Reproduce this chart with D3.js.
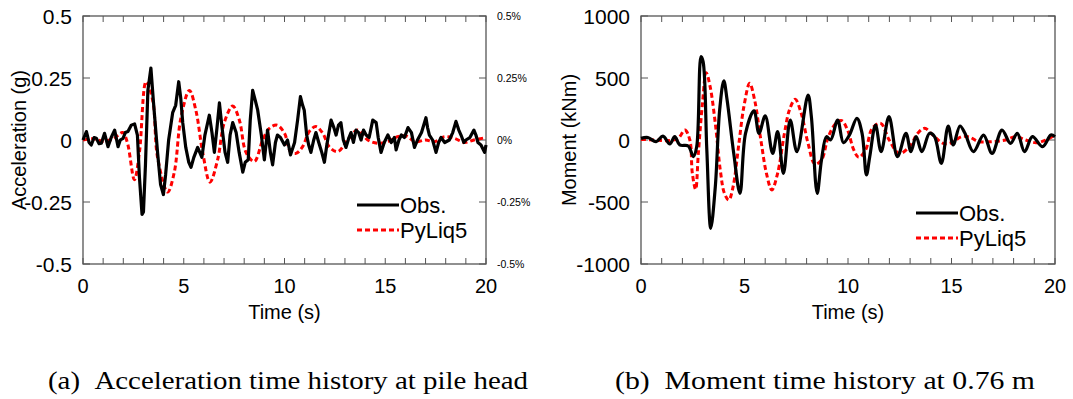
<!DOCTYPE html>
<html>
<head>
<meta charset="utf-8">
<script src="https://cdn.jsdelivr.net/npm/d3@7"></script>
<style>
  body { margin: 0; background: #fff; }
  text { font-family: "Liberation Sans", Arial, sans-serif; fill: #000; }
  .caption { font-family: "Liberation Serif", "Times New Roman", serif; }
</style>
</head>
<body>
<div id="chart"></div>
<script>
// ---- data (time in s) ----
const timeTicks = [0, 5, 10, 15, 20];
const accTicks = [-0.5, -0.25, 0, 0.25, 0.5];
const accPctLabels = ["-0.5%", "-0.25%", "0%", "0.25%", "0.5%"];
const momTicks = [-1000, -500, 0, 500, 1000];
const seriesNames = ["Obs.", "PyLiq5"];

// acceleration at pile head, observed (g)
const accObs = [[0,0.0],[0.17,0.034],[0.3,-0.01],[0.41,-0.02],[0.55,0.01],[0.66,0.007],[0.8,-0.015],[0.91,-0.013],
  [1.07,0.027],[1.24,-0.027],[1.4,0.01],[1.57,0.04],[1.74,-0.027],[1.85,0.0],[1.99,0.007],[2.1,0.03],[2.23,0.034],
  [2.4,0.06],[2.56,0.065],[2.7,0.02],[2.8,-0.15],[2.93,-0.30],[3.0,-0.29],[3.1,-0.10],[3.22,0.2],[3.37,0.29],
  [3.5,0.15],[3.7,-0.05],[3.85,-0.18],[3.99,-0.22],[4.1,-0.14],[4.25,0.0],[4.45,0.11],[4.6,0.14],[4.75,0.235],
  [4.85,0.17],[4.95,0.07],[5.1,-0.03],[5.25,-0.09],[5.36,-0.11],[5.5,-0.07],[5.69,-0.03],[5.9,-0.07],[6.05,0.02],
  [6.27,0.10],[6.4,0.03],[6.52,-0.05],[6.65,0.05],[6.77,0.15],[6.9,0.05],[7.05,-0.05],[7.18,-0.09],[7.3,0.02],
  [7.43,0.07],[7.6,0.03],[7.75,-0.05],[7.93,-0.13],[8.05,-0.09],[8.2,-0.08],[8.3,0.08],[8.42,0.20],[8.55,0.16],
  [8.67,0.12],[8.85,0.02],[9.0,-0.08],[9.16,0.04],[9.3,-0.05],[9.41,-0.10],[9.55,-0.01],[9.65,0.02],[9.8,0.01],
  [10.0,-0.02],[10.15,0.0],[10.3,-0.06],[10.5,-0.01],[10.65,0.08],[10.79,0.175],[10.9,0.14],[10.98,0.12],
  [11.1,0.02],[11.2,-0.02],[11.31,-0.05],[11.45,0.0],[11.56,0.03],[11.7,-0.01],[11.85,-0.05],[11.98,-0.09],
  [12.1,-0.02],[12.31,0.08],[12.45,0.05],[12.56,0.02],[12.68,0.06],[12.8,0.07],[12.92,0.0],[13.05,-0.03],
  [13.2,0.01],[13.3,0.03],[13.42,-0.01],[13.55,0.04],[13.68,0.03],[13.8,0.0],[13.92,0.04],[14.05,0.02],
  [14.2,0.01],[14.38,0.08],[14.55,0.07],[14.65,0.01],[14.79,-0.05],[14.95,-0.01],[15.13,0.02],[15.3,-0.01],
  [15.45,0.01],[15.54,-0.04],[15.68,0.0],[15.8,0.02],[15.95,0.01],[16.13,0.05],[16.3,0.03],[16.45,-0.03],
  [16.6,0.0],[16.8,0.03],[17.02,0.09],[17.1,0.05],[17.19,0.02],[17.35,0.0],[17.52,-0.05],[17.65,-0.01],
  [17.77,0.01],[17.95,-0.01],[18.18,0.0],[18.35,0.03],[18.51,0.075],[18.65,0.04],[18.76,0.02],[18.9,-0.01],
  [19.0,0.0],[19.2,0.01],[19.4,0.04],[19.5,0.02],[19.6,-0.01],[19.75,-0.02],[19.93,-0.05],[20.0,-0.02]];

// acceleration at pile head, PyLiq5 (g)
const accSim = [[0,0.0],[0.5,0.005],[1.0,-0.005],[1.5,0.005],[1.97,0.03],[2.2,-0.01],[2.55,-0.16],[2.8,-0.05],
  [3.13,0.235],[3.46,0.16],[3.7,-0.07],[4.2,-0.21],[4.53,-0.13],[4.86,0.09],[5.28,0.2],[5.6,0.12],[5.94,-0.05],
  [6.3,-0.17],[6.68,-0.08],[7.01,0.07],[7.43,0.137],[7.76,0.08],[8.09,-0.05],[8.5,-0.087],[8.92,0.0],[9.25,0.047],
  [9.63,0.06],[10.0,0.027],[10.3,-0.047],[10.57,-0.054],[10.9,-0.027],[11.23,0.034],[11.56,0.054],[11.9,0.027],
  [12.22,-0.027],[12.64,-0.047],[13.13,0.0],[13.63,0.04],[14.13,0.0],[14.62,-0.013],[15.12,-0.007],[15.6,0.013],
  [16.03,0.016],[16.5,-0.007],[17.0,0.0],[17.44,-0.007],[17.93,0.013],[18.43,0.007],[18.92,-0.01],[19.4,0.0],[20.0,0.01]];

// moment at 0.76 m, observed (kNm)
const momObs = [[0,13],[0.33,20],[0.73,-13],[1.06,32],[1.39,-32],[1.63,27],[1.87,-40],[2.28,-48],[2.53,-134],
  [2.69,-54],[2.9,672],[3.0,632],[3.18,-80],[3.37,-712],[3.59,-376],[3.8,242],[4.0,478],[4.16,322],[4.48,-108],
  [4.78,-430],[5.05,54],[5.46,236],[5.7,54],[6.0,194],[6.36,-108],[6.6,67],[6.88,-269],[7.21,161],[7.53,-94],
  [8.07,363],[8.23,188],[8.51,-430],[8.72,-161],[8.96,27],[9.16,0],[9.5,161],[9.78,-22],[10.07,40],[10.43,175],
  [10.68,54],[10.89,-282],[11.05,-134],[11.33,121],[11.6,-94],[11.98,188],[12.39,-134],[12.8,54],[13.04,-94],
  [13.29,27],[13.57,-94],[13.94,54],[14.18,27],[14.51,-188],[14.84,113],[15.08,-40],[15.41,113],[15.65,54],
  [16.06,-94],[16.55,40],[16.96,-108],[17.44,80],[17.85,-27],[18.18,54],[18.53,-94],[18.91,27],[19.4,-54],
  [19.8,40],[20.0,27]];

// moment at 0.76 m, PyLiq5 (kNm)
const momSim = [[0,5],[0.65,0],[1.3,-5],[1.79,13],[2.12,80],[2.36,0],[2.48,-269],[2.64,-398],[2.77,-108],
  [2.97,296],[3.15,543],[3.34,430],[3.59,134],[3.83,-242],[4.03,-430],[4.24,-484],[4.45,-376],[4.73,-27],
  [4.97,269],[5.25,457],[5.49,322],[5.79,0],[6.06,-269],[6.32,-403],[6.6,-269],[6.93,54],[7.17,242],[7.45,328],
  [7.74,215],[8.07,-27],[8.4,-194],[8.72,-161],[9.05,27],[9.42,134],[9.7,156],[9.98,80],[10.28,-80],[10.52,-140],
  [10.85,-80],[11.17,94],[11.58,134],[11.99,0],[12.48,-108],[12.97,-54],[13.37,54],[13.7,94],[14.1,40],
  [14.6,-27],[15.0,-22],[15.49,27],[15.89,22],[16.3,-13],[16.96,-13],[17.61,0],[18.1,27],[18.59,0],
  [19.08,-22],[19.56,0],[20.0,40]];

const width = 1073, height = 399;
const svg = d3.select("#chart").append("svg")
  .attr("width", width)
  .attr("height", height);

function drawPanel(cfg) {
  const x = d3.scaleLinear().domain([0, 20]).range([cfg.left, cfg.right]);
  const y = d3.scaleLinear().domain(cfg.domain).range([cfg.bottom, cfg.top]);
  const g = svg.append("g");

  // minor time ticks (inside, top and bottom)
  const minor = d3.range(0, 21, 1);
  g.selectAll(".tb").data(minor).join("line")
    .attr("x1", d => x(d)).attr("x2", d => x(d))
    .attr("y1", cfg.bottom).attr("y2", cfg.bottom - 6)
    .attr("stroke", "#555").attr("stroke-width", 1);
  g.selectAll(".tt").data(minor).join("line")
    .attr("x1", d => x(d)).attr("x2", d => x(d))
    .attr("y1", cfg.top).attr("y2", cfg.top + 6)
    .attr("stroke", "#555").attr("stroke-width", 1);

  // value ticks (inside, left and right)
  cfg.ticks.forEach(v => {
    g.append("line").attr("x1", cfg.left).attr("x2", cfg.left + 7)
      .attr("y1", y(v)).attr("y2", y(v)).attr("stroke", "#555");
    g.append("line").attr("x1", cfg.right).attr("x2", cfg.right - 7)
      .attr("y1", y(v)).attr("y2", y(v)).attr("stroke", "#555");
  });

  // frame
  g.append("rect")
    .attr("x", cfg.left).attr("y", cfg.top)
    .attr("width", cfg.right - cfg.left).attr("height", cfg.bottom - cfg.top)
    .attr("fill", "none").attr("stroke", "#555").attr("stroke-width", 1.3);

  // tick labels
  g.selectAll(".xl").data(timeTicks).join("text")
    .attr("x", d => x(d)).attr("y", cfg.bottom + 29)
    .attr("text-anchor", "middle").attr("font-size", 20)
    .text(d => d);
  g.selectAll(".yl").data(cfg.ticks).join("text")
    .attr("x", cfg.left - 11).attr("y", d => y(d) + 7.5)
    .attr("text-anchor", "end").attr("font-size", 21)
    .text(cfg.fmt);

  if (cfg.pct) {
    g.selectAll(".pl").data(cfg.ticks).join("text")
      .attr("x", cfg.right + 11).attr("y", d => y(d) + 4)
      .attr("font-size", 10.5)
      .text((d, i) => cfg.pct[i]);
  }

  // axis titles
  g.append("text")
    .attr("x", (cfg.left + cfg.right) / 2).attr("y", cfg.bottom + 55)
    .attr("text-anchor", "middle").attr("font-size", 20)
    .text("Time (s)");
  g.append("text")
    .attr("transform", `translate(${cfg.ytitleX},${(cfg.top + cfg.bottom) / 2}) rotate(-90)`)
    .attr("text-anchor", "middle").attr("font-size", 20)
    .text(cfg.ytitle);

  // series
  const line = d3.line()
    .x(d => x(d[0])).y(d => y(d[1]));
  g.append("path").datum(cfg.sim)
    .attr("d", line.curve(d3.curveCatmullRom))
    .attr("fill", "none").attr("stroke", "#ff0000")
    .attr("stroke-width", 3).attr("stroke-dasharray", "5,3");
  g.append("path").datum(cfg.obs)
    .attr("d", line.curve(cfg.obsCurve))
    .attr("fill", "none").attr("stroke", "#000")
    .attr("stroke-width", 3.2).attr("stroke-linejoin", "round");

  // legend
  const styles = [{ stroke: "#000", dash: null }, { stroke: "#ff0000", dash: "5,3" }];
  seriesNames.forEach((name, i) => {
    const ly = cfg.legendY + i * 25;
    g.append("line")
      .attr("x1", cfg.legendX).attr("x2", cfg.legendX + 42)
      .attr("y1", ly).attr("y2", ly)
      .attr("stroke", styles[i].stroke).attr("stroke-width", 3)
      .attr("stroke-dasharray", styles[i].dash);
    g.append("text")
      .attr("x", cfg.legendX + 43).attr("y", ly + 8)
      .attr("font-size", 22)
      .text(name);
  });
}

drawPanel({
  left: 83, right: 486, top: 16, bottom: 264,
  domain: [-0.5, 0.5], ticks: accTicks,
  fmt: d => d === 0 ? "0" : String(d),
  pct: accPctLabels,
  ytitle: "Acceleration (g)", ytitleX: 26,
  obs: accObs, sim: accSim, obsCurve: d3.curveLinear,
  legendX: 357, legendY: 205
});

drawPanel({
  left: 641, right: 1055, top: 16, bottom: 264,
  domain: [-1000, 1000], ticks: momTicks,
  fmt: d => String(d),
  pct: null,
  ytitle: "Moment (kNm)", ytitleX: 576,
  obs: momObs, sim: momSim, obsCurve: d3.curveCatmullRom,
  legendX: 916, legendY: 213
});

// captions
svg.append("text").attr("class", "caption")
  .attr("x", 48).attr("y", 389).attr("font-size", 25)
  .attr("textLength", 480).attr("lengthAdjust", "spacingAndGlyphs")
  .text("(a)\u00a0\u00a0Acceleration time history at pile head");
svg.append("text").attr("class", "caption")
  .attr("x", 615).attr("y", 389).attr("font-size", 25)
  .attr("textLength", 420).attr("lengthAdjust", "spacingAndGlyphs")
  .text("(b)\u00a0\u00a0Moment time history at 0.76 m");
</script>
</body>
</html>
